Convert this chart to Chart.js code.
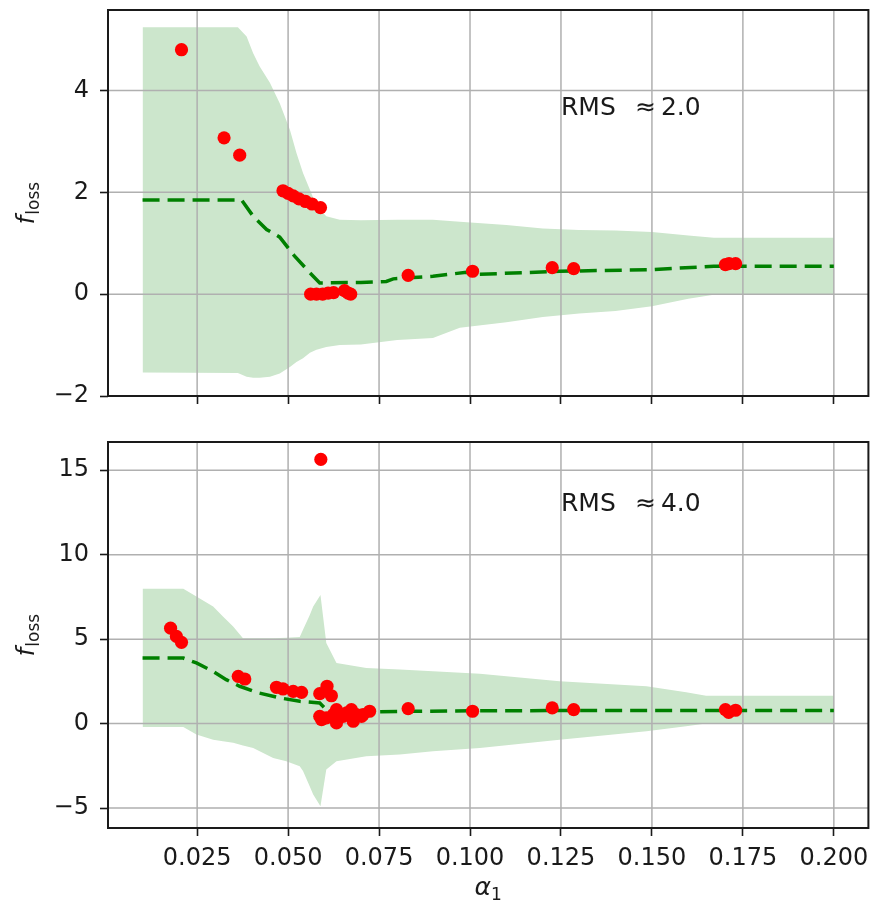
<!DOCTYPE html>
<html>
<head>
<meta charset="utf-8">
<script src="https://cdn.jsdelivr.net/npm/chart.js@4.4.1/dist/chart.umd.min.js"></script>
<style>
    html, body { margin: 0; padding: 0; background: #fff; }
    #wrap { position: relative; width: 875px; height: 911px; }
    .panel { position: absolute; left: 0; width: 875px; }
</style>
</head>
<body>
<div id="wrap">
    <div class="panel" style="top:0;height:420px"><canvas id="topChart" width="875" height="420"></canvas></div>
    <div class="panel" style="top:420px;height:491px"><canvas id="bottomChart" width="875" height="491"></canvas></div>
</div>
<script>
// ---- data ----
const xTicks = [0.025, 0.05, 0.075, 0.1, 0.125, 0.15, 0.175, 0.2];
const topYTicks = [-2, 0, 2, 4];
const bottomYTicks = [-5, 0, 5, 10, 15];

// top panel (RMS ~ 2.0)
const topBandX = [0.010, 0.0362, 0.0386, 0.0404, 0.0422, 0.0450, 0.0477, 0.0505, 0.0523, 0.0541, 0.0560, 0.0578, 0.0605, 0.0642, 0.070, 0.080, 0.0898, 0.0972, 0.110, 0.120, 0.130, 0.140, 0.150, 0.160, 0.167, 0.180, 0.200];
const topBandUpper = [5.24, 5.24, 5.06, 4.73, 4.47, 4.15, 3.75, 3.23, 2.77, 2.38, 2.05, 1.73, 1.53, 1.46, 1.45, 1.46, 1.46, 1.42, 1.36, 1.29, 1.26, 1.25, 1.22, 1.15, 1.11, 1.11, 1.11];
const topBandLower = [-1.54, -1.55, -1.62, -1.64, -1.64, -1.62, -1.56, -1.43, -1.33, -1.26, -1.15, -1.09, -1.04, -1.00, -0.99, -0.90, -0.86, -0.66, -0.55, -0.45, -0.38, -0.33, -0.24, -0.09, -0.01, 0.0, 0.0];
const topMeanX = [0.010, 0.0372, 0.0404, 0.0441, 0.0477, 0.0518, 0.0560, 0.0587, 0.0700, 0.0770, 0.0789, 0.0898, 0.0990, 0.1027, 0.1246, 0.1500, 0.1670, 0.2000];
const topMeanY = [1.85, 1.85, 1.53, 1.27, 1.12, 0.745, 0.42, 0.22, 0.23, 0.25, 0.30, 0.35, 0.43, 0.39, 0.45, 0.48, 0.55, 0.55];
const topPointsX = [0.0207, 0.0324, 0.0367, 0.0486, 0.0500, 0.0514, 0.0530, 0.0548, 0.0566, 0.0589, 0.0562, 0.0578, 0.0595, 0.0610, 0.0625, 0.0655, 0.0665, 0.0672, 0.0830, 0.1007, 0.1226, 0.1285, 0.1702, 0.1712, 0.1730];
const topPointsY = [4.80, 3.07, 2.73, 2.03, 1.98, 1.93, 1.87, 1.82, 1.77, 1.70, 0.0, 0.0, 0.0, 0.02, 0.03, 0.07, 0.02, 0.0, 0.37, 0.45, 0.52, 0.50, 0.58, 0.60, 0.60];

// bottom panel (RMS ~ 4.0)
const bottomBandX = [0.010, 0.0212, 0.0248, 0.0294, 0.0321, 0.0349, 0.0376, 0.0404, 0.0459, 0.0495, 0.0532, 0.0541, 0.0559, 0.0569, 0.0589, 0.0605, 0.0633, 0.0715, 0.0807, 0.0898, 0.1027, 0.1246, 0.1485, 0.1594, 0.1649, 0.200];
const bottomBandUpper = [7.98, 7.98, 7.52, 6.93, 6.34, 5.75, 5.06, 5.06, 5.06, 5.08, 5.12, 5.56, 6.40, 6.93, 7.62, 4.77, 3.59, 3.29, 3.20, 3.10, 2.95, 2.50, 2.21, 1.85, 1.65, 1.65];
const bottomBandLower = [-0.20, -0.20, -0.65, -0.95, -1.05, -1.14, -1.30, -1.44, -2.03, -2.23, -2.52, -2.80, -3.70, -4.20, -4.89, -2.72, -2.23, -1.93, -1.83, -1.64, -1.44, -0.95, -0.45, -0.16, 0.0, 0.0];
const bottomMeanX = [0.010, 0.0212, 0.0248, 0.0294, 0.0330, 0.0367, 0.0413, 0.0477, 0.0532, 0.0587, 0.0610, 0.0624, 0.080, 0.100, 0.150, 0.200];
const bottomMeanY = [3.88, 3.88, 3.59, 3.09, 2.60, 2.21, 1.85, 1.52, 1.32, 1.22, 0.73, 0.67, 0.72, 0.76, 0.78, 0.78];
const bottomPointsX = [0.0177, 0.0193, 0.0207, 0.0363, 0.0381, 0.0468, 0.0486, 0.0514, 0.0537, 0.0587, 0.0590, 0.0607, 0.0619, 0.0592, 0.0587, 0.0605, 0.0624, 0.0633, 0.0633, 0.0651, 0.0661, 0.0674, 0.0679, 0.0688, 0.0702, 0.0706, 0.0724, 0.0830, 0.1007, 0.1226, 0.1285, 0.1702, 0.1711, 0.1730];
const bottomPointsY = [5.65, 5.16, 4.81, 2.80, 2.64, 2.15, 2.05, 1.91, 1.85, 1.77, 15.64, 2.21, 1.65, 0.24, 0.43, 0.34, 0.53, 0.04, 0.83, 0.43, 0.63, 0.83, 0.14, 0.53, 0.43, 0.53, 0.73, 0.89, 0.73, 0.93, 0.83, 0.83, 0.67, 0.79];

const FONT = "'DejaVu Sans', sans-serif";
Chart.defaults.font.family = FONT;
Chart.defaults.color = '#1a1a1a';

const zip = (xs, ys) => xs.map((x, i) => ({ x: x, y: ys[i] }));
const minus = v => (v < 0 ? '\u2212' + Math.abs(v) : String(v));

// grid lines go on top of the green band but under the line and points
const gridOverBand = {
    id: 'gridOverBand',
    afterDatasetDraw(chart, args) {
        if (args.index !== 2) return;
        const { ctx, chartArea: a, scales: { x, y } } = chart;
        ctx.save();
        ctx.strokeStyle = '#b0b0b0';
        ctx.lineWidth = 1.5;
        ctx.beginPath();
        x.ticks.forEach(t => {
            const px = x.getPixelForValue(t.value);
            ctx.moveTo(px, a.top); ctx.lineTo(px, a.bottom);
        });
        y.ticks.forEach(t => {
            const py = y.getPixelForValue(t.value);
            ctx.moveTo(a.left, py); ctx.lineTo(a.right, py);
        });
        ctx.stroke();
        ctx.restore();
    }
};

// frame, RMS note, axis titles with sub-scripts
const decorations = {
    id: 'decorations',
    afterDraw(chart, args, opts) {
        const { ctx, chartArea: a, scales: { x, y } } = chart;
        ctx.save();
        ctx.strokeStyle = '#1a1a1a';
        ctx.lineWidth = 2;
        ctx.strokeRect(a.left, a.top, a.right - a.left, a.bottom - a.top);

        // annotation
        ctx.fillStyle = '#1a1a1a';
        ctx.textBaseline = 'alphabetic';
        ctx.textAlign = 'left';
        ctx.font = '25px ' + FONT;
        const tx = x.getPixelForValue(opts.noteX);
        const ty = y.getPixelForValue(opts.noteY);
        ctx.fillText('RMS', tx, ty);
        ctx.fillText('\u2248', tx + 74, ty);
        ctx.fillText(opts.noteValue, tx + 100, ty);

        // y title: f_loss
        const cy = (a.top + a.bottom) / 2;
        ctx.save();
        ctx.translate(34, cy);
        ctx.rotate(-Math.PI / 2);
        ctx.font = 'italic 24px ' + FONT;
        const wf = ctx.measureText('f').width;
        ctx.font = '17px ' + FONT;
        const ws = ctx.measureText('loss').width;
        const start = -(wf + 1 + ws) / 2;
        ctx.font = 'italic 24px ' + FONT;
        ctx.fillText('f', start, 0);
        ctx.font = '17px ' + FONT;
        ctx.fillText('loss', start + wf + 1, 5);
        ctx.restore();

        // x title: alpha_1
        if (opts.xTitle) {
            const cx = (a.left + a.right) / 2;
            ctx.font = 'italic 25px ' + FONT;
            const wa = ctx.measureText('\u03b1').width;
            ctx.font = '17px ' + FONT;
            const w1 = ctx.measureText('1').width;
            const sx = cx - (wa + w1) / 2;
            ctx.font = 'italic 25px ' + FONT;
            ctx.fillText('\u03b1', sx, 475);
            ctx.font = '17px ' + FONT;
            ctx.fillText('1', sx + wa, 480);
        }
        ctx.restore();
    }
};

function makePanel(canvasId, p) {
    return new Chart(document.getElementById(canvasId), {
        type: 'scatter',
        data: {
            datasets: [
                {
                    data: zip(p.pointsX, p.pointsY),
                    backgroundColor: '#ff0000',
                    borderWidth: 0,
                    pointRadius: 6.6,
                    showLine: false
                },
                {
                    data: zip(p.meanX, p.meanY),
                    showLine: true,
                    borderColor: '#008000',
                    borderWidth: 3.5,
                    borderDash: [17, 8],
                    pointRadius: 0,
                    fill: false,
                    tension: 0
                },
                {
                    data: zip(p.bandX, p.bandUpper),
                    showLine: true,
                    borderColor: 'rgba(0,0,0,0)',
                    borderWidth: 0,
                    pointRadius: 0,
                    backgroundColor: 'rgb(204,230,204)',
                    fill: '+1',
                    tension: 0
                },
                {
                    data: zip(p.bandX, p.bandLower),
                    showLine: true,
                    borderColor: 'rgba(0,0,0,0)',
                    borderWidth: 0,
                    pointRadius: 0,
                    fill: false,
                    tension: 0
                }
            ]
        },
        options: {
            responsive: false,
            animation: false,
            events: [],
            layout: { padding: { left: 0, top: p.padTop, right: 6, bottom: 0 } },
            plugins: {
                legend: { display: false },
                tooltip: { enabled: false },
                decorations: { noteX: 0.125, noteY: p.noteY, noteValue: p.noteValue, xTitle: p.xTitle }
            },
            scales: {
                x: {
                    type: 'linear',
                    min: 0.0005,
                    max: 0.2095,
                    border: { display: false },
                    grid: { color: 'rgba(0,0,0,0)', tickColor: '#1a1a1a', tickWidth: 1.6, tickLength: 8, drawTicks: true },
                    afterBuildTicks: s => { s.ticks = xTicks.map(v => ({ value: v })); },
                    afterFit: s => { s.height = p.xHeight; s.paddingLeft = 0; s.paddingRight = 0; },
                    ticks: {
                        display: p.xLabels,
                        autoSkip: false,
                        maxRotation: 0,
                        padding: 8,
                        font: { size: 24 },
                        color: '#1a1a1a',
                        callback: v => v.toFixed(3)
                    }
                },
                y: {
                    type: 'linear',
                    min: p.yMin,
                    max: p.yMax,
                    border: { display: false },
                    grid: { color: 'rgba(0,0,0,0)', tickColor: '#1a1a1a', tickWidth: 1.6, tickLength: 8, drawTicks: true },
                    afterBuildTicks: s => { s.ticks = p.yTicks.map(v => ({ value: v })); },
                    afterFit: s => { s.width = 108; s.paddingTop = 0; s.paddingBottom = 0; },
                    ticks: {
                        autoSkip: false,
                        padding: 11,
                        font: { size: 24 },
                        color: '#1a1a1a',
                        callback: v => minus(v)
                    }
                }
            }
        },
        plugins: [gridOverBand, decorations]
    });
}

makePanel('topChart', {
    pointsX: topPointsX, pointsY: topPointsY,
    meanX: topMeanX, meanY: topMeanY,
    bandX: topBandX, bandUpper: topBandUpper, bandLower: topBandLower,
    yTicks: topYTicks, yMin: -2.0, yMax: 5.58,
    padTop: 10, xHeight: 24, xLabels: false,
    noteY: 3.52, noteValue: '2.0', xTitle: false
});

makePanel('bottomChart', {
    pointsX: bottomPointsX, pointsY: bottomPointsY,
    meanX: bottomMeanX, meanY: bottomMeanY,
    bandX: bottomBandX, bandUpper: bottomBandUpper, bandLower: bottomBandLower,
    yTicks: bottomYTicks, yMin: -6.18, yMax: 16.67,
    padTop: 22, xHeight: 83, xLabels: true,
    noteY: 12.6, noteValue: '4.0', xTitle: true
});
</script>
</body>
</html>
